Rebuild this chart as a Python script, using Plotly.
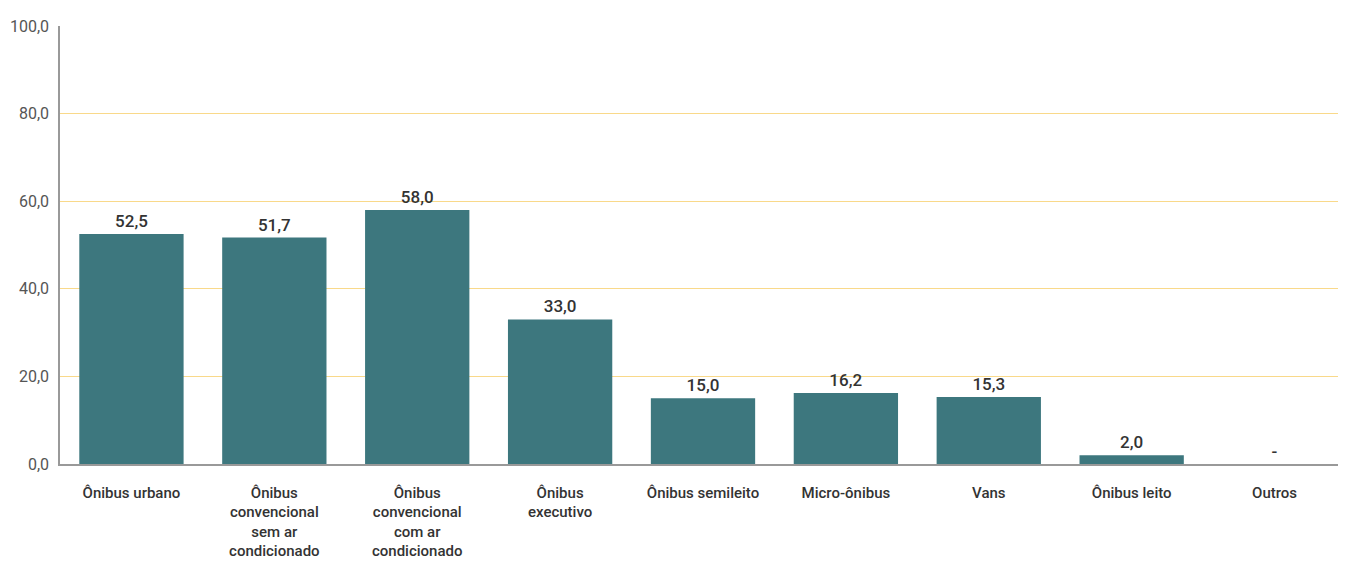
import plotly.graph_objects as go

categories = ["Ônibus urbano", "Ônibus<br>convencional<br>sem ar<br>condicionado",
              "Ônibus<br>convencional<br>com ar<br>condicionado", "Ônibus<br>executivo",
              "Ônibus semileito", "Micro-ônibus", "Vans", "Ônibus leito", "Outros"]
values = [52.5, 51.7, 58.0, 33.0, 15.0, 16.2, 15.3, 2.0, 0.0]
labels = ["52,5", "51,7", "58,0", "33,0", "15,0", "16,2", "15,3", "2,0", "-"]
y_ticks = [0, 20, 40, 60, 80, 100]
y_tick_text = ["0,0", "20,0", "40,0", "60,0", "80,0", "100,0"]

FONT = "Roboto, sans-serif"

fig = go.Figure(go.Bar(
    x=list(range(len(categories))), y=values, text=labels, textposition="outside",
    cliponaxis=False,
    textfont=dict(family=FONT, size=17, color="#333333", weight=500),
    marker=dict(color="#3D777E", line=dict(width=0)),
    width=0.73,
))
fig.update_layout(
    width=1338, height=554,
    margin=dict(l=52, r=0, t=18, b=98, autoexpand=False),
    paper_bgcolor="white", plot_bgcolor="white",
    showlegend=False,
    font=dict(family=FONT, color="#333333"),
    xaxis=dict(tickmode="array", tickvals=list(range(len(categories))), ticktext=categories,
               range=[-0.5, len(categories) - 0.5], showgrid=False, ticks="",
               showline=True, linecolor="#999999", linewidth=1.5, automargin=False,
               tickfont=dict(family=FONT, size=15, color="#333333", weight=500),
               ticklabelstandoff=14),
    yaxis=dict(range=[0, 100], tickmode="array", tickvals=y_ticks, ticktext=y_tick_text,
               showgrid=True, gridcolor="#F9D98A", gridwidth=1, zeroline=False,
               showline=True, linecolor="#999999", linewidth=1.5, ticks="", automargin=False,
               tickfont=dict(family=FONT, size=16, color="#555555"), ticklabelstandoff=6),
)
fig.write_html("out.html")
